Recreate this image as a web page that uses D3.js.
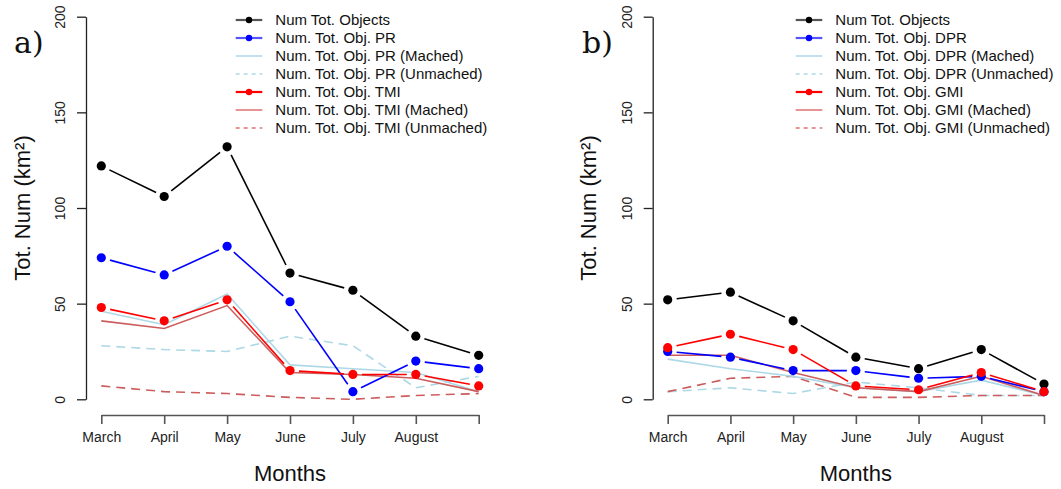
<!DOCTYPE html>
<html><head><meta charset="utf-8">
<script src="https://cdn.jsdelivr.net/npm/d3@7"></script>
<style>body{margin:0;background:#fff}svg{display:block}</style>
</head><body>
<svg id="c" width="1061" height="489"></svg>
<script>
const months = ["March","April","May","June","July","August","September"];
const tickLabels = ["March","April","May","June","July","August",""];
const yTicks = [0,50,100,150,200];

// Panel a
const aTotal = [122,106,132,66,57,33,23];
const aPR = [74,65,80,51,4,20,16];
const aPRMatched = [46,39,55,18,16,14,4];
const aPRUnmatched = [28,26,25,33,28,6,12];
const aTMI = [48,41,52,15,13,13,7];
const aTMIMatched = [41,37,49,14,13,11,4];
const aTMIUnmatched = [7,4,3,1,0,2,3];
const aLegend = ["Num Tot. Objects","Num. Tot. Obj. PR","Num. Tot. Obj. PR (Mached)","Num. Tot. Obj. PR (Unmached)","Num. Tot. Obj. TMI","Num. Tot. Obj. TMI (Mached)","Num. Tot. Obj. TMI (Unmached)"];

// Panel b
const bTotal = [52,56,41,22,16,26,8];
const bDPR = [25,22,15,15,11,12,4];
const bDPRMatched = [21,16,12,6,4,10,2];
const bDPRUnmatched = [4,6,3,9,6,2,2];
const bGMI = [27,34,26,7,5,14,4];
const bGMIMatched = [23,23,14,6,4,12,2];
const bGMIUnmatched = [4,11,12,1,1,2,2];
const bLegend = ["Num Tot. Objects","Num. Tot. Obj. DPR","Num. Tot. Obj. DPR (Mached)","Num. Tot. Obj. DPR (Unmached)","Num. Tot. Obj. GMI","Num. Tot. Obj. GMI (Mached)","Num. Tot. Obj. GMI (Unmached)"];

const styles = [
  {color:"#000000", pts:true, dash:null, legColor:"#555555"},
  {color:"#0000FF", pts:true, dash:null, legColor:"#5555FF"},
  {color:"#ADD8E6", pts:false, dash:null, legColor:"#ADD8E6"},
  {color:"#ADD8E6", pts:false, dash:"9,6", legColor:"#ADD8E6"},
  {color:"#FF0000", pts:true, dash:null, legColor:"#FF0000"},
  {color:"#CD5C5C", pts:false, dash:null, legColor:"#E07070"},
  {color:"#CD5C5C", pts:false, dash:"9,6", legColor:"#E07070"}
];
const drawOrder = [3,6,2,5,0,1,4];
const SANS = "'Liberation Sans',Arial,sans-serif";

const svg = d3.select("#c");

function panel(cfg){
  const g = svg.append("g").style("font-family",SANS);
  const x = d3.scalePoint().domain(months).range([cfg.x0, cfg.x1]);
  const y = d3.scaleLinear().domain([0,200]).range([399.3, 16.7]);

  const ya = g.append("g").attr("transform",`translate(${cfg.yAxisX},0)`)
    .call(d3.axisLeft(y).tickValues(yTicks).tickSize(9).tickSizeOuter(0));
  ya.select(".domain").attr("stroke","#222").attr("stroke-width",1.3);
  ya.selectAll(".tick line").attr("stroke","#222").attr("stroke-width",1.3);
  ya.selectAll(".tick text").style("font-family",SANS).style("font-size","14px").attr("fill","#222")
    .attr("text-anchor","middle").attr("transform","rotate(-90)")
    .attr("x",0).attr("y",-(cfg.yAxisX - cfg.yLabX)).attr("dy","0.35em");

  const xa = g.append("g").attr("transform","translate(0,415)")
    .call(d3.axisBottom(x).tickSize(9).tickSizeOuter(0).tickFormat((d,i)=>tickLabels[i]));
  xa.select(".domain").attr("stroke","#555").attr("stroke-width",1.6);
  xa.selectAll(".tick line").attr("stroke","#555").attr("stroke-width",1.6);
  xa.selectAll(".tick text").style("font-family",SANS).style("font-size","14px").attr("fill","#222").attr("y",22).attr("dy","0.35em");

  g.append("text").attr("x",(cfg.x0+cfg.x1)/2).attr("y",481).attr("text-anchor","middle")
    .style("font-size","22px").attr("fill","#111").text("Months");
  g.append("text").attr("transform",`translate(${cfg.yTitleX},208) rotate(-90)`)
    .attr("text-anchor","middle").attr("dy","0.35em").style("font-size","22px").attr("fill","#111")
    .text("Tot. Num (km²)");
  g.append("text").attr("x",cfg.tagX).attr("y",53)
    .style("font-family","'DejaVu Serif','Liberation Serif',serif").style("font-size","30px")
    .style("font-weight","normal").attr("fill","#111")
    .text(cfg.tag);

  drawOrder.forEach(si=>{
    const st = styles[si];
    const vals = cfg.series[si];
    const pts = vals.map((v,i)=>[x(months[i]), y(v)]);
    if(!st.pts){
      g.append("path").attr("d", d3.line()(pts)).attr("fill","none")
        .attr("stroke",st.color).attr("stroke-width",1.6)
        .attr("stroke-dasharray",st.dash);
    } else {
      const gap = 9;
      for(let i=0;i<pts.length-1;i++){
        const [xa1,ya1]=pts[i],[xb,yb]=pts[i+1];
        const dx=xb-xa1, dy=yb-ya1, L=Math.hypot(dx,dy);
        if(L<=2*gap) continue;
        const ux=dx/L, uy=dy/L;
        g.append("line").attr("x1",xa1+ux*gap).attr("y1",ya1+uy*gap)
          .attr("x2",xb-ux*gap).attr("y2",yb-uy*gap)
          .attr("stroke",st.color).attr("stroke-width",1.6);
      }
      g.selectAll(null).data(pts).enter().append("circle")
        .attr("cx",d=>d[0]).attr("cy",d=>d[1]).attr("r",4.6).attr("fill",st.color);
    }
  });

  const lg = g.append("g");
  cfg.legend.forEach((lab,i)=>{
    const st = styles[i];
    const cy = 20 + i*18;
    lg.append("line").attr("x1",cfg.legX).attr("x2",cfg.legX+26.6).attr("y1",cy).attr("y2",cy)
      .attr("stroke",st.legColor).attr("stroke-width",st.pts?2.2:1.5)
      .attr("stroke-dasharray",st.dash?"4,4":null);
    if(st.pts) lg.append("circle").attr("cx",cfg.legX+13.3).attr("cy",cy).attr("r",3.2).attr("fill",st.color);
    lg.append("text").attr("x",cfg.legX+39.6).attr("y",cy).attr("dy","0.35em")
      .style("font-size","15px").attr("fill","#111").text(lab);
  });
}

panel({x0:101.3, x1:478.7, yAxisX:86, yLabX:60, yTitleX:22, tagX:14, tag:"a)", legX:235.7,
  series:[aTotal,aPR,aPRMatched,aPRUnmatched,aTMI,aTMIMatched,aTMIUnmatched], legend:aLegend});
panel({x0:667.7, x1:1044, yAxisX:652.7, yLabX:626.7, yTitleX:588, tagX:582, tag:"b)", legX:795.7,
  series:[bTotal,bDPR,bDPRMatched,bDPRUnmatched,bGMI,bGMIMatched,bGMIUnmatched], legend:bLegend});
</script>
</body></html>
